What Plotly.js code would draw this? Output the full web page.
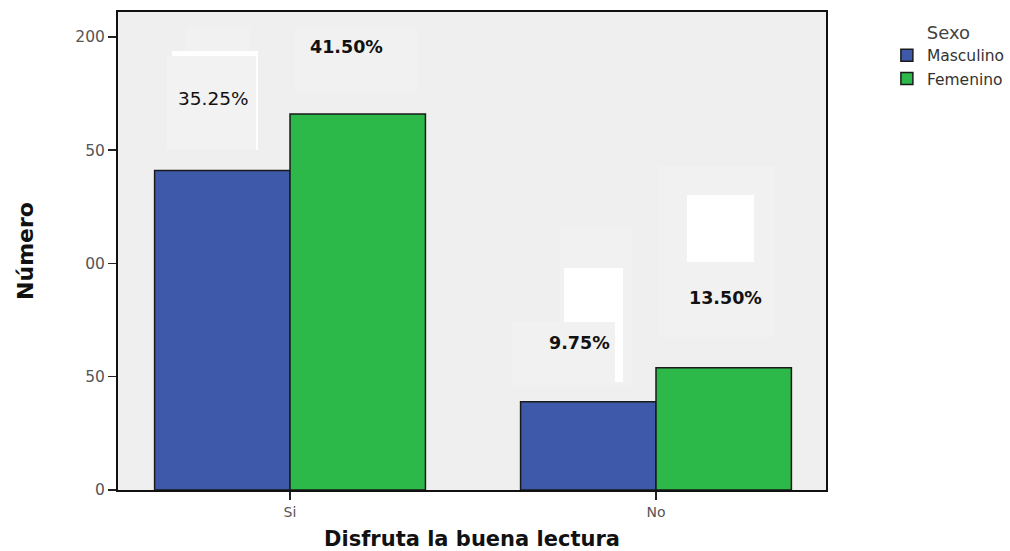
<!DOCTYPE html>
<html>
<head>
<meta charset="utf-8">
<script src="https://cdn.plot.ly/plotly-3.0.1.min.js"></script>
<style>
  html, body { margin: 0; padding: 0; background: #ffffff; }
  #chart { width: 1010px; height: 551px; }
</style>
</head>
<body>
<div id="chart"></div>
<script>
// Disfruta la buena lectura, por sexo (n = 400)
const categories = ["Si", "No"];
const seriesNames = ["Masculino", "Femenino"];
const pctMasculino = [35.25, 9.75];
const pctFemenino = [41.50, 13.50];
const totalN = 400;
const yTickVals = [0, 50, 100, 150, 200];
const yTickText = ["0", "50", "00", "50", "200"];

const countMasculino = pctMasculino.map(p => p * totalN / 100);
const countFemenino = pctFemenino.map(p => p * totalN / 100);

const FONT = "DejaVu Sans, Verdana, sans-serif";
const fmt = p => p.toFixed(2) + "%";

const traces = [
  {
    type: "bar", name: seriesNames[0], x: categories, y: countMasculino,
    marker: { color: "#3e59a9", line: { color: "#1a1a1a", width: 1.5 } },
    hoverinfo: "skip"
  },
  {
    type: "bar", name: seriesNames[1], x: categories, y: countFemenino,
    marker: { color: "#2db84a", line: { color: "#1a1a1a", width: 1.5 } },
    hoverinfo: "skip"
  }
];

// label offsets (category units, data units) relative to each category
const labelSpots = [
  { ci: 0, dx: -0.208, y: 173, pct: pctMasculino[0], bold: false },
  { ci: 0, dx: 0.153, y: 195.6, pct: pctFemenino[0], bold: true },
  { ci: 1, dx: -0.208, y: 64.9, pct: pctMasculino[1], bold: true },
  { ci: 1, dx: 0.191, y: 84.8, pct: pctFemenino[1], bold: true }
];

const annotations = labelSpots.map(s => ({
  xref: "x", yref: "y", x: s.ci + s.dx, y: s.y,
  text: s.bold ? "<b>" + fmt(s.pct) + "</b>" : fmt(s.pct),
  showarrow: false,
  font: { family: FONT, size: s.bold ? 17.5 : 18.5, color: "#111111" }
}));

// label-box remnants, converted from plot-area pixels to paper fractions
const W = 708, H = 478, L = 118, T = 12;
const box = (x0, y0, x1, y1, color) => ({
  type: "rect", xref: "paper", yref: "paper", layer: "below",
  x0: (x0 - L) / W, x1: (x1 - L) / W,
  y0: 1 - (y1 - T) / H, y1: 1 - (y0 - T) / H,
  fillcolor: color, line: { width: 0 }
});
const shapes = [
  box(167, 56, 257, 150, "#f2f2f2"),
  box(186, 28, 250, 51, "#f1f1f1"),
  box(295, 28, 417, 92, "#f1f1f1"),
  box(172, 51, 258, 56, "#ffffff"),
  box(256, 51, 258, 150, "#ffffff"),
  box(512, 322, 615, 385, "#f1f1f1"),
  box(560, 227, 632, 385, "#f1f1f1"),
  box(564, 268, 623, 322, "#ffffff"),
  box(615, 322, 623, 382, "#ffffff"),
  box(659, 166, 775, 337, "#f1f1f1"),
  box(687, 195, 754, 262, "#ffffff")
];

const layout = {
  width: 1010, height: 551,
  margin: { l: 118, r: 184, t: 12, b: 61, autoexpand: false },
  paper_bgcolor: "#ffffff",
  plot_bgcolor: "#efefef",
  barmode: "group",
  bargap: 0.26,
  bargroupgap: 0,
  font: { family: FONT },
  xaxis: {
    type: "category",
    range: [-0.47, 1.4645],
    showgrid: false, zeroline: false,
    showline: true, linecolor: "#111111", linewidth: 2, mirror: true,
    ticks: "outside", ticklen: 8, tickwidth: 1.5, tickcolor: "#222222",
    tickfont: { family: FONT, size: 14, color: "#555555" },
    title: { text: "<b>Disfruta la buena lectura</b>", standoff: 15,
             font: { family: FONT, size: 21, color: "#111111" } }
  },
  yaxis: {
    range: [0, 211],
    tickvals: yTickVals, ticktext: yTickText,
    showgrid: false, zeroline: false,
    showline: true, linecolor: "#111111", linewidth: 2, mirror: true,
    ticks: "outside", ticklen: 8, tickwidth: 1.5, tickcolor: "#222222",
    tickfont: { family: FONT, size: 15.5, color: "#555555" },
    title: { text: "<b>Número</b>", standoff: 36,
             font: { family: FONT, size: 22, color: "#111111" } }
  },
  showlegend: true,
  legend: {
    x: 1.086, xanchor: "left", y: 0.993, yanchor: "top",
    bgcolor: "rgba(0,0,0,0)",
    font: { family: FONT, size: 15.5, color: "#333333" },
    tracegroupgap: 0,
    title: { text: "Sexo", side: "top center",
             font: { family: FONT, size: 18, color: "#444444" } }
  },
  annotations: annotations,
  shapes: shapes
};

Plotly.newPlot("chart", traces, layout, { staticPlot: true, displayModeBar: false });
</script>
</body>
</html>
